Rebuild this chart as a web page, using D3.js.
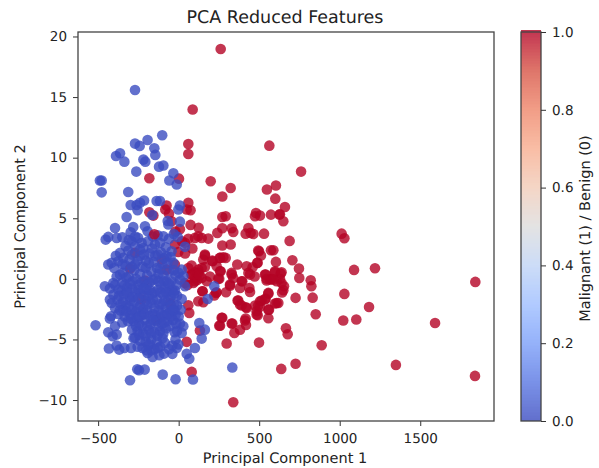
<!DOCTYPE html>
<html>
<head>
<meta charset="utf-8">
<script src="https://cdn.jsdelivr.net/npm/d3@7"></script>
<style>
  body { margin: 0; background: #fff; }
  svg { display: block; }
  text { font-family: 'DejaVu Sans', sans-serif; fill: #222; text-rendering: geometricPrecision; }
</style>
</head>
<body>
<svg class="canvas" width="599" height="468"></svg>
<script>
'use strict'

const xTicks = [-500, 0, 500, 1000, 1500]
const yTicks = [-10, -5, 0, 5, 10, 15, 20]
const colorbarTicks = [0, 0.2, 0.4, 0.6, 0.8, 1]
const coolwarmStops = ['#3b4cc0', '#5977e3', '#7b9ff9', '#9ebeff', '#c0d4f5', '#dddcdc', '#f2cbb7', '#f7ac8e', '#ee8468', '#d65244', '#b40426']

// Malignant: [component 1, component 2]
const malignant = [
  [261,18.97],[87,13.97],[60,11.13],[60,10.3],[563,10.99],[-182,8.3],[2,8.27],[199,8.05],[323,7.5],[271,6.8],
  [604,7.7],[548,7.37],[600,6.62],[760,8.85],[660,5.93],[629,5.33],[650,4.75],[60,6.27],[-75,6.05],[-83,5.72],
  [50,5.72],[74,5.66],[-182,5.5],[-157,5.22],[-60,5.38],[271,5.11],[292,5.17],[480,5.44],[474,5.17],[505,5.22],
  [573,5.3],[625,5.3],[-44,4.75],[74,4.45],[124,4.22],[8,4.1],[271,4.18],[329,4.18],[339,3.87],[240,3.79],
  [433,4.2],[416,3.73],[447,3.79],[530,3.73],[122,3.51],[143,3.38],[101,3.38],[184,3.32],[271,2.75],[323,2.83],
  [-23,2.83],[-2,2.22],[39,2.97],[499,2.28],[511,1.92],[588,2.36],[573,2.36],[163,1.92],[153,1.59],[211,1.45],
  [257,1.73],[292,1.73],[-106,1.59],[236,1.04],[143,0.9],[163,0.98],[122,0.76],[101,0.55],[364,1.18],[490,1.32],
  [422,1.04],[459,0.96],[433,0.49],[257,0.63],[329,0.35],[443,0.35],[540,0.35],[81,0.35],[39,-0.34],[101,0.08],
  [91,-0.34],[143,0.08],[174,-0.2],[252,0],[339,0.08],[391,-0.2],[319,-0.47],[381,-0.75],[439,-0.75],[443,-1.08],
  [546,0],[567,-0.06],[598,0.54],[633,0.44],[629,0],[577,0],[608,-0.2],[654,-0.61],[639,-0.34],[650,-0.94],
  [642,-1.13],[149,-1.02],[236,-1.1],[221,-1.38],[294,-1.1],[557,-1.22],[540,-1.63],[366,-1.79],[122,-1.85],[153,-1.93],
  [381,-2.12],[418,-2.34],[505,-1.85],[474,-2.2],[505,-2.31],[484,-2.67],[561,-2.54],[598,-2.04],[619,-1.99],[60,-2.18],
  [66,-2.81],[491,-3],[557,-3.25],[271,-3.22],[416,-3.28],[412,-3.44],[329,-3.69],[257,-3.86],[418,-3.8],[346,-4.46],
  [132,-4.27],[298,-5.34],[499,-5.26],[50,-5.2],[81,-7.68],[339,-10.18],[1012,3.73],[1029,3.35],[689,3.13],[706,1.54],
  [604,1.4],[747,0.85],[1089,0.74],[1219,0.88],[749,0.08],[820,-0.12],[824,-0.61],[1842,-0.25],[1029,-1.24],[726,-1.57],
  [832,-1.55],[1182,-2.32],[851,-2.92],[1022,-3.44],[1103,-3.36],[1592,-3.64],[666,-4.08],[677,-4.57],[888,-5.48],[726,-7],
  [637,-7.43],[1349,-7.1],[1840,-8.01],[-302,0.85],[-271,2.14],[-230,-1.71],[-54,-1.99],[-209,-0.14],[-137,-3.36],[-23,1.18],
  [-75,0.76],[60,3.3],[-20,3.9],
  [464,3.7],[494,2.33],[488,1.31],[472,0.2],[536,0.35],[598,0.63],[639,0.55],[546,-0.14],[588,-0.06],[163,2],
  [209,1.5],[277,1.78],[256,1.73],[261,0.63],[81,0.35],[101,-0.2],[194,0.2],[246,0.02],[329,0.49],[395,-0.2],
  [319,-0.56],[147,-1.02],[232,-1.16],[370,-1.79],[391,-2.2],[422,-2.4],[494,-2.2],[515,-1.79],[557,-1.16],[536,-1.71],
  [557,-2.54],[608,-1.99],[484,-2.95],[267,-3.22],[252,-3.86],[333,-3.69],[381,-4.2],[120,0.5],[115,-0.1],[130,0.3],
  [60,0.9],[80,1.1],[55,-0.5],[40,2.1],[20,3.1],[85,2.5]
]

// Benign: outer points first, then the dense middle
const benign = [
  [-271,15.59],[-102,11.85],[-193,11.46],[-271,11.16],[-242,10.97],[-151,10.78],[-145,10.23],[-364,10.36],[-389,10.14],[-337,9.67],
  [-219,9.84],[-207,9.67],[-122,9.26],[-95,9.35],[-263,8.85],[-33,8.71],[-58,8.11],[-12,7.78],[-489,8.11],[-478,8.11],
  [-478,7.14],[-313,7.17],[-298,6.1],[-261,6.1],[-240,6.27],[-215,6.46],[-255,5.66],[-137,6.43],[-116,6.43],[-323,5.11],
  [8,6.05],[-2,5.72],[-164,5.27],[-68,4.78],[8,4.72],[-395,4.2],[-282,4.28],[-209,4.34],[-453,3.24],[-437,3.46],
  [-385,3.38],[-350,3.43],[-298,3.85],[-193,3.93],[-251,3.38],[-292,3.1],[-230,2.97],[-271,2.69],[-219,2.55],[-147,2.83],
  [-116,2.97],[-95,3.51],[-64,4.48],[-6,3.46],[39,2.64],[-364,2.14],[-313,2.33],[-344,1.73],[-375,1.45],[-437,1.18],
  [-416,1.32],[-44,2.28],[-75,1.87],[-33,1.32],[19,0.76],[29,0.21],[8,-0.06],[39,-0.61],[-458,-0.61],[-427,-0.8],
  [-406,-0.34],[-364,0.35],[-375,-0.88],[-427,-1.71],[-416,-1.99],[-395,-2.4],[-344,-2.54],[-420,-3.09],[-427,-3.28],[-395,-3.91],
  [-516,-3.83],[-437,-4.41],[-410,-4.74],[-385,-4.6],[-433,-5.75],[-385,-5.5],[-369,-5.84],[-337,-5.7],[-296,-5.7],[-271,-4.87],
  [-193,-6.11],[-162,-6.44],[-91,-6.17],[-39,-6.19],[-2,-5.42],[-12,-5.7],[19,-4.46],[29,-3.91],[8,-3.69],[-23,-0.97],
  [19,-1.66],[12,-2.54],[221,-0.61],[180,-1.66],[128,-3.64],[163,-4.19],[143,-4.93],[101,-5.7],[50,-6.19],[66,-6.6],
  [-257,-7.46],[-246,-7.54],[-211,-7.49],[-302,-8.37],[-99,-7.9],[-19,-8.28],[89,-8.31],[333,-7.32],
  [-330,1.1],[-305,1.6],[-270,1.2],[-240,1.9],[-205,1.5],[-180,2.1],[-130,2],[-100,1.2],[-60,0.6],[-20,0.3],
  [-345,0.5],[-310,0.2],[-275,0.7],[-240,0.4],[-205,0.9],[-170,0.6],[-135,0.9],[-95,0.3],[-45,-0.2],[-15,-0.5],
  [-350,-0.3],[-320,-0.7],[-285,-0.2],[-250,-0.5],[-215,-0.2],[-180,-0.3],[-145,0],[-110,-0.5],[-75,-0.2],[-40,-0.9],
  [-340,-1.3],[-305,-1.5],[-270,-1.1],[-235,-1.2],[-200,-0.9],[-165,-1.2],[-130,-0.9],[-95,-1.3],[-60,-1],[-10,-1.4],
  [-380,-1.7],[-345,-1.9],[-310,-2.3],[-275,-1.9],[-240,-2.2],[-205,-1.8],[-170,-2],[-135,-1.7],[-100,-2.1],[-65,-1.7],
  [-30,-2.1],[-375,-2.9],[-335,-3.1],[-300,-3],[-265,-2.7],[-230,-3],[-195,-2.6],[-160,-2.9],[-125,-2.6],[-90,-3],
  [-55,-2.7],[-20,-3],[-280,-3.5],[-245,-3.7],[-210,-3.4],[-175,-3.7],[-140,-3.5],[-105,-3.7],[-70,-3.5],[-35,-3.4],
  [-290,-4.2],[-255,-4.3],[-220,-4.5],[-185,-4.2],[-150,-4.4],[-115,-4.3],[-80,-4.1],[-10,-4.3],[-240,-5.1],[-205,-5.2],
  [-170,-5],[-135,-5.2],[-100,-4.9],[-20,-5],[-225,-5.7],[-150,-5.8],[-115,-5.6],[-60,-5.8],[-190,-5.5],[-170,-5.9],
  [-300,-1.8],[-260,-3.2],[-220,-2.5],[-185,-1.4],[-150,-2.4],[-115,-3.2],[-80,-2.4],[-45,-3.1],[-250,-0.9],[-215,-1.4],
  [-330,-2.2],[-360,-2.1],[-355,-1],[-290,-0.8],[-195,0.3],[-155,1.4],[-125,0.4],[-85,-0.8],[-50,-1.5],[-25,-2.6],
  [-310,3.2],[-330,2.7],[-270,3.5],[-240,2.4],[-190,3.1],[-160,3.5],[-130,3.6],[-80,2.6],[-60,3.3],[-30,3.7],
  [-390,1.9],[-350,1.2],[-290,2],[-215,2],[-165,2.5],[-110,2.2],[-90,1.7],[-50,1.8],[-400,0.9],[-385,0.2],
  [-325,0.1],[-290,1],[-255,1.5],[-225,1],[-185,1.3],[-145,1.9],[-115,0.8],[-70,1.3],[-30,0.7],[0,0.5],
  [-395,-0.5],[-335,-0.5],[-300,-0.4],[-265,0],[-230,-0.3],[-195,-0.5],[-160,-0.1],[-125,-0.2],[-90,-0.2],[-60,-0.4],
  [-405,-1.3],[-370,-1.4],[-320,-1.1],[-285,-1.5],[-250,-1.6],[-218,-0.8],[-180,-0.9],[-150,-1.1],[-112,-1.1],[-78,-1.1],
  [-28,-1.2],[-365,-2.6],[-325,-2.7],[-290,-2.6],[-255,-2.4],[-195,-2.1],[-160,-1.7],[-118,-2.1],[-85,-1.8],[-48,-2.2],
  [-10,-2.2],[-350,-3.6],[-315,-3.5],[-295,-3.3],[-245,-3.1],[-212,-2.9],[-178,-3.1],[-145,-3],[-105,-2.9],[-70,-2.9],
  [-35,-2.6],[0,-3.1],[-265,-3.9],[-228,-3.9],[-195,-3.9],[-160,-3.4],[-125,-3.9],[-90,-3.6],[-55,-3.9],[-15,-3.7],
  [-280,-4.9],[-245,-4.6],[-205,-4.7],[-170,-4.5],[-132,-4.7],[-95,-4.5],[-25,-4.4],[-180,-5.4],[-130,-5.7],[-85,-5.3],
  [-40,-5.5],[-255,-5.6],[-120,-6.3],[-200,-5.9]
]

// This one sits on top of the blue in the reference
const malignantOnTop = [[-151,3.68]]

const plot = { left: 78, right: 494, top: 32, bottom: 421 },
  bar = { left: 521, right: 541 }

const x = d3.scaleLinear().domain([-625, 1958]).range([plot.left, plot.right]),
  y = d3.scaleLinear().domain([-11.73, 20.37]).range([plot.bottom, plot.top]),
  barY = d3.scaleLinear().domain([0, 1]).range([plot.bottom, plot.top])

const coolwarm = d3
  .scaleLinear()
  .domain(coolwarmStops.map((c, i) => i / (coolwarmStops.length - 1)))
  .range(coolwarmStops)

const svg = d3.select('.canvas')

// Points.
const drawPoints = (points, value) =>
  svg
    .append('g')
    .selectAll('circle')
    .data(points)
    .enter()
    .append('circle')
    .attr('cx', d => x(d[0]))
    .attr('cy', d => y(d[1]))
    .attr('r', 5.3)
    .attr('fill', coolwarm(value))
    .attr('fill-opacity', 0.8)

drawPoints(malignant, 1)
drawPoints(benign, 0)
drawPoints(malignantOnTop, 1)

// Axes.
const style = g => {
  g.selectAll('text').style('font-size', '13.5px').style('font-family', "'DejaVu Sans', sans-serif")
  g.selectAll('line').attr('stroke', '#333')
  g.selectAll('.domain').remove()
}

svg
  .append('g')
  .attr('transform', `translate(0, ${plot.bottom})`)
  .call(d3.axisBottom(x).tickValues(xTicks).tickFormat(d3.format('d')).tickSize(5).tickPadding(7))
  .call(style)
svg
  .append('g')
  .attr('transform', `translate(${plot.left}, 0)`)
  .call(d3.axisLeft(y).tickValues(yTicks).tickSize(5).tickPadding(6))
  .call(style)
svg
  .append('rect')
  .attr('x', plot.left)
  .attr('y', plot.top)
  .attr('width', plot.right - plot.left)
  .attr('height', plot.bottom - plot.top)
  .attr('fill', 'none')
  .attr('stroke', '#444')
  .attr('stroke-width', 1.3)

// Colorbar.
const barSteps = d3.range(0, 256).map(i => i / 255)
svg
  .append('g')
  .selectAll('rect')
  .data(barSteps)
  .enter()
  .append('rect')
  .attr('x', bar.left)
  .attr('width', bar.right - bar.left)
  .attr('y', d => barY(d) - (plot.bottom - plot.top) / 255)
  .attr('height', (plot.bottom - plot.top) / 255)
  .attr('fill', d => coolwarm(d))
  .attr('fill-opacity', 0.8)
  .attr('shape-rendering', 'crispEdges')
svg
  .append('rect')
  .attr('x', bar.left)
  .attr('y', plot.top)
  .attr('width', bar.right - bar.left)
  .attr('height', plot.bottom - plot.top)
  .attr('fill', 'none')
  .attr('stroke', '#444')
  .attr('stroke-width', 1.3)
svg
  .append('g')
  .attr('transform', `translate(${bar.right}, 0)`)
  .call(d3.axisRight(barY).tickValues(colorbarTicks).tickFormat(d3.format('.1f')).tickSize(5).tickPadding(6))
  .call(style)

// Titles.
svg
  .append('text')
  .attr('x', (plot.left + plot.right) / 2 - 1)
  .attr('y', 23)
  .attr('text-anchor', 'middle')
  .style('font-size', '17.5px')
  .text('PCA Reduced Features')
svg
  .append('text')
  .attr('x', (plot.left + plot.right) / 2 - 1)
  .attr('y', 463)
  .attr('text-anchor', 'middle')
  .style('font-size', '14.5px')
  .text('Principal Component 1')
svg
  .append('text')
  .attr('transform', `translate(25, ${(plot.top + plot.bottom) / 2}) rotate(-90)`)
  .attr('text-anchor', 'middle')
  .style('font-size', '14.5px')
  .text('Principal Component 2')
svg
  .append('text')
  .attr('transform', `translate(590, ${(plot.top + plot.bottom) / 2 + 2}) rotate(-90)`)
  .attr('text-anchor', 'middle')
  .style('font-size', '14.5px')
  .text('Malignant (1) / Benign (0)')
</script>
</body>
</html>
